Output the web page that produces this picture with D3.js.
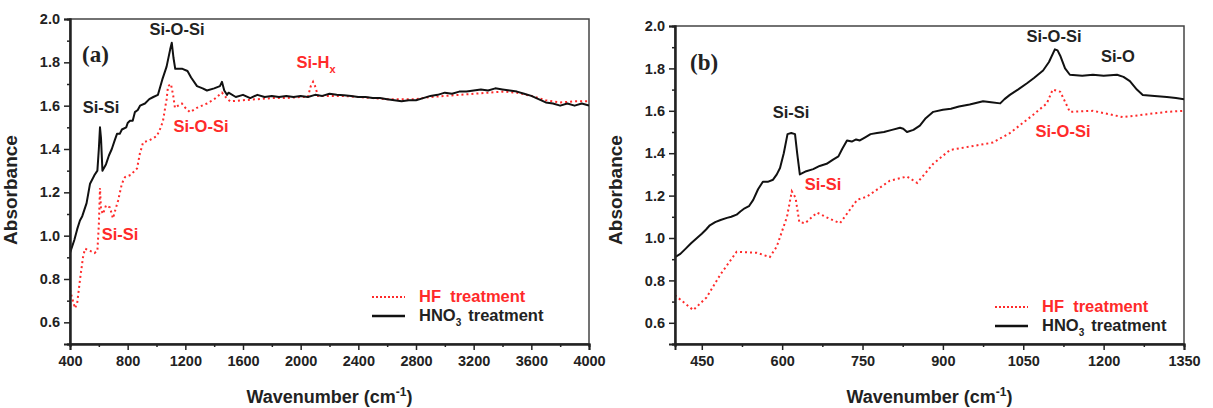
<!DOCTYPE html>
<html>
<head>
<meta charset="utf-8">
<script src="https://cdn.jsdelivr.net/npm/d3@7"></script>
<style>
  body { margin: 0; background: #fff; }
  text { font-family: "Liberation Sans", Arial, sans-serif; font-weight: bold; }
</style>
</head>
<body>
<svg id="chart" width="1213" height="408"></svg>
<script>
// panel (a) : full range spectra
var hno3A = [[400,0.92],[430,0.98],[450,1.03],[469,1.07],[485,1.09],[500,1.12],[515,1.15],[539,1.24],[555,1.26],[570,1.28],[590,1.30],[600,1.40],[608,1.50],[615,1.45],[625,1.30],
  [650,1.33],[670,1.37],[690,1.40],[710,1.44],[726,1.47],[745,1.47],[760,1.49],[790,1.50],[800,1.52],[816,1.53],[835,1.53],[850,1.57],[870,1.58],[886,1.60],[920,1.61],[950,1.63],[978,1.64],
  [1010,1.65],[1040,1.72],[1070,1.78],[1095,1.86],[1106,1.89],[1118,1.82],[1130,1.77],[1180,1.77],[1215,1.76],[1240,1.73],
  [1281,1.69],[1320,1.68],[1350,1.67],[1400,1.68],[1440,1.69],[1454,1.71],[1470,1.67],[1489,1.65],[1500,1.66],[1550,1.64],
  [1600,1.65],[1650,1.635],[1700,1.65],[1750,1.64],[1800,1.645],[1850,1.64],[1900,1.645],[1950,1.64],[2000,1.645],[2050,1.64],
  [2100,1.65],[2150,1.645],[2200,1.655],[2250,1.65],[2300,1.648],[2350,1.645],[2400,1.64],[2450,1.64],[2500,1.635],[2550,1.635],
  [2600,1.63],[2650,1.625],[2700,1.62],[2750,1.625],[2800,1.625],[2850,1.635],[2900,1.645],[2950,1.65],[3000,1.66],[3050,1.655],
  [3100,1.665],[3150,1.665],[3200,1.67],[3250,1.675],[3300,1.67],[3350,1.68],[3400,1.675],[3450,1.67],[3500,1.665],[3550,1.655],
  [3600,1.645],[3650,1.63],[3700,1.615],[3750,1.61],[3800,1.60],[3850,1.61],[3900,1.60],[3950,1.61],[4000,1.60]];

var hfA = [[400,0.75],[420,0.70],[435,0.665],[450,0.69],[470,0.80],[490,0.90],[504,0.94],[539,0.93],[570,0.92],[590,0.93],
  [600,1.05],[608,1.22],[615,1.12],[629,1.10],[650,1.14],[677,1.13],[698,1.08],[715,1.12],[733,1.16],[760,1.24],[781,1.27],
  [820,1.28],[865,1.31],[885,1.38],[907,1.43],[950,1.44],[1003,1.46],[1030,1.50],[1045,1.53],[1070,1.63],[1080,1.69],[1100,1.70],
  [1115,1.65],[1128,1.59],[1150,1.60],[1176,1.61],[1200,1.59],[1232,1.57],[1280,1.59],[1350,1.61],[1400,1.63],[1454,1.66],
  [1480,1.64],[1510,1.62],[1600,1.625],[1700,1.63],[1800,1.635],[1900,1.635],[2000,1.64],[2050,1.64],[2070,1.69],[2086,1.71],
  [2100,1.69],[2120,1.645],[2200,1.645],[2300,1.645],[2400,1.64],[2500,1.635],[2600,1.63],[2700,1.63],[2800,1.63],[2900,1.64],
  [3000,1.645],[3100,1.65],[3200,1.655],[3300,1.66],[3400,1.665],[3500,1.66],[3600,1.645],[3700,1.625],[3800,1.615],[3900,1.62],
  [4000,1.62]];

// panel (b) : 400-1350 zoom
var hno3B = [[400,0.91],[410,0.925],[420,0.95],[430,0.975],[441,1.0],[450,1.02],[458,1.04],[465,1.06],[475,1.075],[485,1.085],
  [497,1.095],[505,1.10],[515,1.11],[522,1.125],[530,1.14],[538,1.15],[546,1.18],[555,1.23],[564,1.265],[573,1.265],[583,1.275],
  [590,1.30],[596,1.33],[603,1.40],[610,1.49],[617,1.495],[624,1.49],[628,1.40],[633,1.30],[645,1.315],[658,1.325],[670,1.34],
  [683,1.35],[695,1.37],[705,1.385],[712,1.42],[721,1.46],[730,1.455],[738,1.465],[745,1.46],[755,1.475],[765,1.49],[777,1.495],
  [790,1.50],[805,1.51],[820,1.52],[826,1.515],[833,1.50],[845,1.51],[857,1.53],[868,1.565],[882,1.595],[900,1.605],[915,1.61],
  [930,1.62],[950,1.63],[975,1.645],[990,1.64],[1007,1.635],[1015,1.655],[1025,1.675],[1040,1.70],[1057,1.73],[1070,1.755],
  [1087,1.79],[1098,1.83],[1109,1.89],[1114,1.885],[1119,1.86],[1128,1.80],[1137,1.77],[1160,1.765],[1180,1.77],[1200,1.765],
  [1225,1.77],[1237,1.76],[1249,1.74],[1262,1.70],[1273,1.675],[1295,1.67],[1318,1.665],[1335,1.66],[1350,1.655]];

var hfB = [[400,0.73],[434,0.66],[459,0.72],[484,0.825],[515,0.935],[553,0.93],[577,0.91],[590,0.96],[609,1.10],[618,1.22],
  [625,1.19],[632,1.075],[643,1.07],[665,1.12],[689,1.09],[708,1.07],[740,1.18],[758,1.195],[801,1.27],[833,1.29],[852,1.26],
  [882,1.35],[913,1.415],[993,1.45],[1025,1.495],[1068,1.58],[1094,1.635],[1105,1.70],[1119,1.69],[1137,1.595],[1180,1.60],
  [1236,1.57],[1318,1.595],[1350,1.60]];

var ticksA = [400, 800, 1200, 1600, 2000, 2400, 2800, 3200, 3600, 4000];
var ticksB = [450, 600, 750, 900, 1050, 1200, 1350];
var ticksY = [0.6, 0.8, 1.0, 1.2, 1.4, 1.6, 1.8, 2.0];

var RED = "#ff2a2a";
var svg = d3.select("#chart");

function drawPanel(cfg) {
  var x = d3.scaleLinear().domain(cfg.xDomain).range([cfg.left, cfg.right]);
  var y = d3.scaleLinear().domain([0.5, 2.0]).range([cfg.bottom, cfg.top]);
  var g = svg.append("g");

  g.append("clipPath").attr("id", "clip" + cfg.id)
    .append("rect").attr("x", cfg.left).attr("y", cfg.top)
    .attr("width", cfg.right - cfg.left).attr("height", cfg.bottom - cfg.top);

  // frame (top/right)
  g.append("rect").attr("x", cfg.left).attr("y", cfg.top)
    .attr("width", cfg.right - cfg.left).attr("height", cfg.bottom - cfg.top)
    .attr("fill", "none").attr("stroke", "#444").attr("stroke-width", 1.5);

  var line = d3.line().x(d => x(d[0])).y(d => y(d[1]));
  var plot = g.append("g").attr("clip-path", "url(#clip" + cfg.id + ")");
  plot.append("path").datum(cfg.hf).attr("d", line)
    .attr("fill", "none").attr("stroke", RED).attr("stroke-width", 2)
    .attr("stroke-dasharray", "2,3");
  plot.append("path").datum(cfg.hno3).attr("d", line)
    .attr("fill", "none").attr("stroke", "#111").attr("stroke-width", 2)
    .attr("stroke-linejoin", "round");

  // minor ticks
  var xMinor = [];
  for (var i = 0; i < cfg.ticks.length; i++) xMinor.push(cfg.ticks[i] - cfg.step / 2);
  var xMinorAxis = d3.axisBottom(x).tickValues(xMinor.filter(v => v >= cfg.xDomain[0]))
    .tickSize(3).tickFormat("");
  g.append("g").attr("transform", "translate(0," + cfg.bottom + ")").call(xMinorAxis);
  var yMinorAxis = d3.axisLeft(y).tickValues([0.5, 0.7, 0.9, 1.1, 1.3, 1.5, 1.7, 1.9])
    .tickSize(3).tickFormat("");
  g.append("g").attr("transform", "translate(" + cfg.left + ",0)").call(yMinorAxis);

  var xAxis = d3.axisBottom(x).tickValues(cfg.ticks).tickSize(6).tickPadding(6).tickFormat(d3.format("d"));
  g.append("g").attr("transform", "translate(0," + cfg.bottom + ")").call(xAxis);
  var yAxis = d3.axisLeft(y).tickValues(ticksY).tickSize(6).tickPadding(4).tickFormat(d3.format(".1f"));
  g.append("g").attr("transform", "translate(" + cfg.left + ",0)").call(yAxis);

  g.selectAll(".domain").attr("stroke", "#222").attr("stroke-width", 2);
  g.selectAll(".tick line").attr("stroke", "#222").attr("stroke-width", 1.5);
  g.selectAll(".tick text").attr("font-size", 14.5).attr("fill", "#222")
    .style("font-family", "'Liberation Sans', Arial, sans-serif").style("font-weight", "bold");

  // axis titles
  var xt = g.append("text").attr("x", (cfg.left + cfg.right) / 2).attr("y", 403)
    .attr("text-anchor", "middle").attr("font-size", 18).attr("fill", "#222");
  xt.append("tspan").text("Wavenumber (cm");
  xt.append("tspan").attr("font-size", 12).attr("dy", -7).text("-1");
  xt.append("tspan").attr("dy", 7).text(")");

  g.append("text").attr("transform", "translate(" + cfg.titleX + ",190) rotate(-90)")
    .attr("text-anchor", "middle").attr("font-size", 19).attr("fill", "#222").text("Absorbance");

  // panel label
  g.append("text").attr("x", cfg.labelX).attr("y", cfg.labelY)
    .style("font-family", "'Liberation Serif', 'Times New Roman', serif")
    .attr("font-size", 23).attr("fill", "#222").text(cfg.label);

  // annotations
  cfg.notes.forEach(function(n) {
    var t = g.append("text").attr("x", n.x).attr("y", n.y).attr("text-anchor", "middle")
      .attr("font-size", 16.5).attr("fill", n.red ? RED : "#222");
    t.append("tspan").text(n.text);
    if (n.sub) t.append("tspan").attr("font-size", 11).attr("dy", 5).text(n.sub);
  });

  // legend
  var lg = g.append("g");
  lg.append("line").attr("x1", cfg.legX).attr("x2", cfg.legX + 33).attr("y1", cfg.legY).attr("y2", cfg.legY)
    .attr("stroke", RED).attr("stroke-width", 2).attr("stroke-dasharray", "2,2");
  lg.append("text").attr("x", cfg.legX + 47).attr("y", cfg.legY + 5).attr("font-size", 16.5)
    .attr("fill", RED).attr("xml:space", "preserve").text("HF  treatment");
  lg.append("line").attr("x1", cfg.legX).attr("x2", cfg.legX + 33).attr("y1", cfg.legY + 19).attr("y2", cfg.legY + 19)
    .attr("stroke", "#111").attr("stroke-width", 2.5);
  var ht = lg.append("text").attr("x", cfg.legX + 47).attr("y", cfg.legY + 24).attr("font-size", 16.5).attr("fill", "#222");
  ht.append("tspan").text("HNO");
  ht.append("tspan").attr("font-size", 10).attr("dy", 5).text("3");
  ht.append("tspan").attr("dy", -5).attr("dx", 7).text("treatment");
}

drawPanel({
  id: "a", xDomain: [400, 4000], left: 70, right: 589, top: 19, bottom: 344,
  ticks: ticksA, step: 400, hno3: hno3A, hf: hfA, titleX: 17,
  label: "(a)", labelX: 82, labelY: 62, legX: 372, legY: 297,
  notes: [
    {text: "Si-O-Si", x: 177, y: 35},
    {text: "Si-Si", x: 101, y: 113},
    {text: "Si-O-Si", x: 201, y: 132, red: true},
    {text: "Si-Si", x: 120, y: 240, red: true},
    {text: "Si-H", sub: "x", x: 316, y: 68, red: true}
  ]
});

drawPanel({
  id: "b", xDomain: [400, 1350], left: 675, right: 1184, top: 26, bottom: 344,
  ticks: ticksB, step: 150, hno3: hno3B, hf: hfB, titleX: 622,
  label: "(b)", labelX: 690, labelY: 70, legX: 995, legY: 307,
  notes: [
    {text: "Si-Si", x: 791, y: 118},
    {text: "Si-Si", x: 823, y: 190, red: true},
    {text: "Si-O-Si", x: 1054, y: 42},
    {text: "Si-O", x: 1118, y: 62},
    {text: "Si-O-Si", x: 1063, y: 137, red: true}
  ]
});
</script>
</body>
</html>
